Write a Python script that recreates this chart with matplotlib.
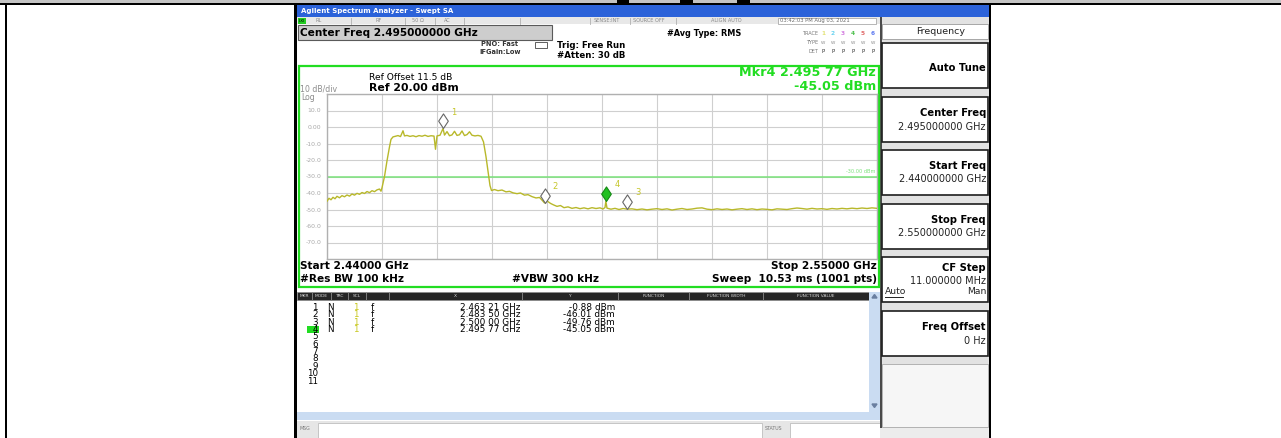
import matplotlib.pyplot as plt
from matplotlib.patches import Rectangle, Polygon
from matplotlib.path import Path

W, H = 1281, 438

# analyzer setup
start_ghz = 2.44
stop_ghz = 2.55
ref_level_dbm = 20.0
db_per_div = 10
display_line_dbm = -30.0

# trace readings, split by region (GHz / dBm)
lower_freq = [2.4400, 2.4404, 2.4408, 2.4412, 2.4416, 2.4420, 2.4425, 2.4430, 2.4435,
              2.4440, 2.4445, 2.4450, 2.4455, 2.4460, 2.4465, 2.4470, 2.4475, 2.4480,
              2.4485, 2.4490, 2.4495, 2.4500, 2.4505, 2.4508, 2.4510]
lower_dbm = [-45.0, -43.2, -44.1, -42.6, -43.5, -42.0, -42.9, -41.6, -42.3,
             -41.2, -41.9, -40.6, -41.3, -40.2, -40.8, -39.7, -40.3, -39.1,
             -39.8, -38.6, -39.2, -38.1, -37.6, -38.9, -36.8]

carrier_freq = [2.4515, 2.4520, 2.4525, 2.4528, 2.4532, 2.4537, 2.4542, 2.4547, 2.4552,
                2.4555, 2.4560, 2.4566, 2.4572, 2.4578, 2.4584, 2.4590, 2.4596, 2.4602,
                2.4608, 2.4614, 2.4617, 2.4620, 2.4626, 2.46321, 2.4635, 2.4640, 2.4645,
                2.4650, 2.4655, 2.4660, 2.4665, 2.4670, 2.4675, 2.4680, 2.4685, 2.4690,
                2.4696, 2.4702, 2.4708, 2.4713, 2.4718, 2.4722, 2.4726, 2.4729]
carrier_dbm = [-30.0, -20.5, -12.0, -7.5, -6.0, -5.6, -5.2, -5.8, -2.3,
               -5.4, -5.1, -5.7, -5.3, -5.9, -5.2, -5.6, -5.0, -5.7,
               -5.3, -5.5, -13.5, -5.4, -5.0, -0.88, -4.9, -2.8, -5.3,
               -4.8, -2.6, -5.1, -4.7, -2.4, -5.2, -4.6, -2.9, -5.0,
               -5.4, -5.1, -5.6, -9.0, -18.0, -27.0, -35.5, -38.5]

skirt_freq = [2.4735, 2.4742, 2.4750, 2.4758, 2.4765, 2.4772, 2.4780, 2.4787, 2.4795,
              2.4802, 2.4810, 2.4818, 2.4825, 2.4830, 2.4835, 2.4840, 2.4847, 2.4853,
              2.4860, 2.4867, 2.4874, 2.4882, 2.4890, 2.4898, 2.4906, 2.4914, 2.4922,
              2.4930, 2.4938, 2.4946, 2.4952, 2.4956, 2.49577, 2.4960, 2.4968, 2.4976,
              2.4984, 2.4992, 2.5000]
skirt_dbm = [-37.9, -38.6, -38.2, -39.3, -39.0, -39.9, -40.4, -40.0, -41.3,
             -41.0, -42.2, -43.0, -42.7, -44.3, -46.01, -44.8, -46.3, -47.2,
             -48.1, -47.6, -48.9, -48.4, -49.3, -48.8, -49.5, -49.0, -49.6,
             -48.9, -49.4, -49.0, -49.7, -48.8, -45.05, -49.2, -49.8, -49.3,
             -50.0, -49.4, -49.76]

floor_freq = [2.501, 2.502, 2.503, 2.504, 2.505, 2.506, 2.507, 2.508, 2.509, 2.510,
              2.511, 2.512, 2.513, 2.514, 2.515, 2.516, 2.517, 2.518, 2.519, 2.520,
              2.521, 2.522, 2.523, 2.524, 2.525, 2.526, 2.527, 2.528, 2.529, 2.530,
              2.531, 2.532, 2.533, 2.534, 2.535, 2.536, 2.537, 2.538, 2.539, 2.540,
              2.541, 2.542, 2.543, 2.544, 2.545, 2.546, 2.547, 2.548, 2.549, 2.550]
floor_dbm = [-49.6, -50.1, -49.7, -50.2, -49.8, -49.5, -50.0, -49.6, -50.3, -49.8,
             -49.4, -50.0, -49.7, -49.2, -49.0, -49.8, -50.1, -49.6, -50.0, -49.7,
             -50.2, -49.8, -49.5, -50.0, -49.6, -50.1, -49.7, -49.9, -50.2, -49.6,
             -49.8, -50.0, -49.5, -49.1, -49.4, -49.8, -49.3, -49.7, -49.5, -49.9,
             -49.4, -49.7, -49.3, -49.6, -49.2, -49.5, -49.1, -49.4, -49.0, -49.3]

# markers
marker_ids = [1, 2, 3, 4]
marker_freq_ghz = [2.46321, 2.48350, 2.50000, 2.49577]
marker_level_dbm = [-0.88, -46.01, -49.76, -45.05]
active_marker = 4

# right-hand softkeys
softkey_titles = ["Auto Tune", "Center Freq", "Start Freq", "Stop Freq", "CF Step", "Freq Offset"]
softkey_values = ["", "2.495000000 GHz", "2.440000000 GHz", "2.550000000 GHz", "11.000000 MHz", "0 Hz"]

# marker table header
table_columns = ["MKR", "MODE", "TRC", "SCL", "", "X", "Y", "FUNCTION", "FUNCTION WIDTH", "FUNCTION VALUE"]
table_col_edges = [297, 312, 331, 348, 366, 389, 522, 618, 689, 763, 869]

TRACE_COLOR = "#b8b82a"
GREEN = "#22dd22"

# graticule position in pixels
GX0, GX1 = 327, 877
GY0, GY1 = 94, 259


def fmt_ghz(f):
    s = f"{f:.5f}"
    return s[:5] + " " + s[5:]


fig = plt.figure(figsize=(W / 100, H / 100), dpi=100)
bg = fig.add_axes([0, 0, 1, 1])
bg.set_xlim(0, W)
bg.set_ylim(H, 0)
bg.axis("off")


def box(x0, y0, x1, y1, fc="none", ec="none", lw=0.0, z=1):
    bg.add_patch(Rectangle((x0, y0), x1 - x0, y1 - y0, facecolor=fc,
                           edgecolor=ec, linewidth=lw, zorder=z))


def label(x, y, s, size=6, color="black", weight="normal", ha="left", va="center", z=5):
    return bg.text(x, y, s, fontsize=size, color=color, fontweight=weight,
                   ha=ha, va=va, zorder=z)


# page frame
box(0, 0, W, 3, "#c4c4c4")
for x0, x1 in [(617, 629), (680, 693), (737, 750)]:
    box(x0, 0, x1, 3, "black")
box(0, 3, W, 5, "black")
box(5, 3, 7, H, "black")
box(294, 3, 297, H, "black")
box(989, 3, 991, H, "black")

# screen background + title bar
box(297, 5, 989, H, "#f0f0f0")
box(297, 5, 989, 17, "#2b62d9")
label(301, 11, "Agilent Spectrum Analyzer - Swept SA", 5, "white", "bold")

# status row
box(297, 17, 880, 24, "#e8e8e8")
box(298, 17.5, 306, 23.5, "#22cc22")
label(299, 20.5, "LXI", 3, "black")
for x, s in [(315, "RL"), (376, "RF"), (412, "50 Ω"), (444, "AC"),
             (594, "SENSE:INT"), (633, "SOURCE OFF"), (711, "ALIGN AUTO")]:
    label(x, 20.5, s, 3.6, "#8a8a8a")
for x in [351, 405, 435, 464, 520, 590, 630, 676]:
    bg.plot([x, x], [17.5, 23.5], color="#b0b0b0", lw=0.6, zorder=3)
box(778, 17.5, 876, 23.5, "white", "#9a9a9a", 0.5, z=2)
label(780, 20.5, "03:42:03 PM Aug 03, 2021", 3.8, "#6a6a6a")

# info area
box(297, 24, 880, 64, "white")
box(298, 25, 552, 40, "#cdcdcd", "#5a5a5a", 0.8, z=2)
label(300, 32.5, f"Center Freq {(start_ghz + stop_ghz) / 2:.9f} GHz", 7.6, "black", "bold")
label(481, 44.5, "PNO: Fast", 4.8, "#333333", "bold")
label(479, 52.5, "IFGain:Low", 4.8, "#333333", "bold")
box(535, 42, 547, 48, "white", "#444444", 0.6, z=2)
label(557, 45, "Trig: Free Run", 6.2, "black", "bold")
label(557, 55, "#Atten: 30 dB", 6.2, "black", "bold")
label(667, 34, "#Avg Type: RMS", 5.9, "black", "bold")
label(818, 33.5, "TRACE", 3.6, "#777777", ha="right")
label(818, 43, "TYPE", 3.6, "#777777", ha="right")
label(818, 51.5, "DET", 3.6, "#777777", ha="right")
for i, c in enumerate(["#e3e37a", "#6ad3f0", "#d47ee0", "#4cc04c", "#e06b6b", "#5f7bf0"]):
    label(823 + 10 * i, 33.5, str(i + 1), 4.2, c, "bold", ha="center")
    label(823 + 10 * i, 43, "W", 3.2, "#8a8a8a", ha="center")
    label(823 + 10 * i, 51.5, "P", 4, "#333333", ha="center")

# graph frame
box(297, 64, 880, 289, "white")
box(298.5, 65.5, 879, 287, "none", GREEN, 1.6, z=6)
label(369, 77, "Ref Offset 11.5 dB", 6.6)
label(369, 88, f"Ref {ref_level_dbm:.2f} dBm", 7.8, weight="bold")
label(300, 89.5, f"{db_per_div} dB/div", 5.6, "#8c8c8c")
label(301, 97, "Log", 5.6, "#8c8c8c")
act = marker_ids.index(active_marker)
label(876, 73, f"Mkr{active_marker} {fmt_ghz(marker_freq_ghz[act])} GHz", 9.2, GREEN, "bold", ha="right")
label(876, 86, f"{marker_level_dbm[act]:.2f} dBm", 9.2, GREEN, "bold", ha="right")
label(300, 266, f"Start {start_ghz:.5f} GHz", 7.6, weight="bold")
label(877, 266, f"Stop {stop_ghz:.5f} GHz", 7.6, weight="bold", ha="right")
label(300, 279, "#Res BW 100 kHz", 7.6, weight="bold")
label(512, 279, "#VBW 300 kHz", 7.6, weight="bold")
label(877, 279, "Sweep  10.53 ms (1001 pts)", 7.6, weight="bold", ha="right")

# marker table
box(297, 289, 880, 421, "white")
for name, x0, x1 in zip(table_columns, table_col_edges[:-1], table_col_edges[1:]):
    box(x0, 292, x1, 300, "#262626", "#8a8a8a", 0.5, z=2)
    label((x0 + x1) / 2, 296, name, 3.2, "#d8d8d8", ha="center")
box(869, 292, 880, 420, "#cadcf2", z=2)
box(297, 412, 869, 420, "#cadcf2", z=2)
bg.add_patch(Polygon([(872, 298), (877, 298), (874.5, 294.5)], color="#6a7fa0", zorder=3))
bg.add_patch(Polygon([(872, 404), (877, 404), (874.5, 407.5)], color="#6a7fa0", zorder=3))
row_y0, row_step = 307.5, 7.35
for i in range(11):
    y = row_y0 + i * row_step
    num = i + 1
    if num == active_marker:
        box(307, y - 3.2, 319, y + 3.2, "#22dd22", z=2)
    label(318, y, str(num), 6.3, ha="right")
    if num in marker_ids:
        k = marker_ids.index(num)
        label(330, y, "N", 6.3, ha="center")
        label(356, y, "1", 6.3, "#c8c820", ha="center")
        label(372, y, "f", 6.3, ha="center")
        label(520, y, f"{fmt_ghz(marker_freq_ghz[k])} GHz", 6.4, ha="right")
        label(615, y, f"{marker_level_dbm[k]:.2f} dBm", 6.4, ha="right")

# message bar
box(297, 421, 989, H, "#e6e6e6")
box(318, 423, 762, H, "white", "#b4b4b4", 0.5, z=2)
box(790, 423, 880, H, "white", "#b4b4b4", 0.5, z=2)
label(299, 429, "MSG", 3.4, "#777777")
label(765, 429, "STATUS", 3.4, "#777777")

# softkey panel
box(880, 17, 989, 428, "#e2e2e2")
box(880, 17, 882, 428, "#4a4a4a", z=2)
box(882, 24, 988, 39, "white", "#9a9a9a", 0.6, z=2)
label(941, 31.5, "Frequency", 6.8, "#222222", ha="center")
key_tops = [43, 97, 150, 204, 257, 311]
for title, value, top in zip(softkey_titles, softkey_values, key_tops):
    box(882, top, 988, top + 45, "white", "#1e1e1e", 1.2, z=2)
    if title == "CF Step":
        label(986, top + 11, title, 7.2, weight="bold", ha="right")
        label(986, top + 23.5, value, 7, "#222222", ha="right")
        label(885, top + 35, "Auto", 6.6, "#222222")
        bg.plot([885, 903], [top + 39.5, top + 39.5], color="#222222", lw=0.7, zorder=5)
        label(986, top + 35, "Man", 6.6, "#222222", ha="right")
    elif value:
        label(986, top + 16, title, 7.2, weight="bold", ha="right")
        label(986, top + 29.5, value, 7, "#222222", ha="right")
    else:
        label(986, top + 25, title, 7.2, weight="bold", ha="right")
box(882, 364, 988, 427, "#f6f6f6", "#a8a8a8", 0.6, z=2)
box(880, 428, 989, H, "#ececec", z=2)

# graticule with trace
ax = fig.add_axes([GX0 / W, 1 - GY1 / H, (GX1 - GX0) / W, (GY1 - GY0) / H])
ax.set_facecolor("white")
ax.set_xlim(start_ghz, stop_ghz)
bottom_dbm = ref_level_dbm - 10 * db_per_div
ax.set_ylim(bottom_dbm, ref_level_dbm)
span = stop_ghz - start_ghz
ax.set_xticks([start_ghz + i * span / 10 for i in range(11)])
yticks = [bottom_dbm + i * db_per_div for i in range(11)]
ax.set_yticks(yticks)
ax.set_yticklabels(["" if v in (bottom_dbm, ref_level_dbm) else ("0.00" if v == 0 else f"{v:.1f}")
                    for v in yticks])
ax.tick_params(length=0, labelbottom=False, labelsize=4.4, labelcolor="#a8a8a8", pad=4)
ax.grid(color="#cfcfcf", lw=0.8)
for sp in ax.spines.values():
    sp.set_color("#b0b0b0")
    sp.set_linewidth(1)

ax.axhline(display_line_dbm, color="#7ae27a", lw=1.1, zorder=2)
ax.annotate(f"{display_line_dbm:.2f} dBm", (stop_ghz, display_line_dbm), xytext=(-1, 1.5),
            textcoords="offset points", ha="right", va="bottom", fontsize=3.6, color="#7ae27a")

trace_freq = lower_freq + carrier_freq + skirt_freq + floor_freq
trace_dbm = lower_dbm + carrier_dbm + skirt_dbm + floor_dbm
ax.plot(trace_freq, trace_dbm, color=TRACE_COLOR, lw=1.0, zorder=3)

diamond = Path([(0, 0), (0.33, 0.5), (0, 1), (-0.33, 0.5), (0, 0)],
               [Path.MOVETO, Path.LINETO, Path.LINETO, Path.LINETO, Path.CLOSEPOLY])
for mid, f, lvl in zip(marker_ids, marker_freq_ghz, marker_level_dbm):
    active = mid == active_marker
    ax.plot([f], [lvl], marker=diamond, ms=21, ls="none", zorder=5,
            mfc="#22c022" if active else "white",
            mec="#148a14" if active else "#666666", mew=0.8)
    ax.annotate(str(mid), (f, lvl), xytext=(6, 10), textcoords="offset points",
                fontsize=6, color="#c6c62a", zorder=6)

fig.savefig("out.png", dpi=100)
